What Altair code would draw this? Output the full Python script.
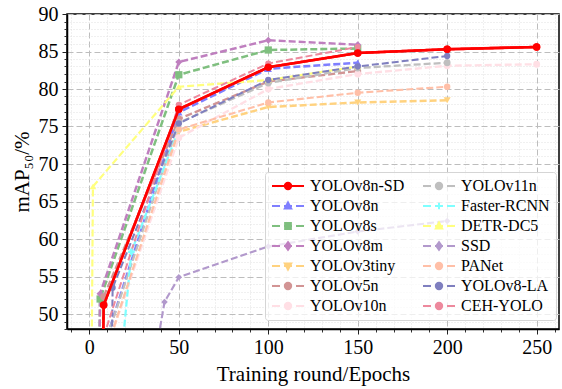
import altair as alt
import pandas as pd

# ---------------- data ----------------
series_names = ["YOLOv8n-SD", "YOLOv8n", "YOLOv8s", "YOLOv8m", "YOLOv3tiny", "YOLOv5n", "YOLOv10n",
                "YOLOv11n", "Faster-RCNN", "DETR-DC5", "SSD", "PANet", "YOLOv8-LA", "CEH-YOLO"]

sd_x = [7, 8, 50, 100, 150, 200, 250]
sd_y = [35, 51.2, 77.3, 82.9, 84.8, 85.3, 85.6]
v8n_x = [10, 50, 100, 150]
v8n_y = [47, 76.9, 82.7, 83.5]
v8s_x = [5, 6, 50, 100, 150]
v8s_y = [35, 52.0, 81.9, 85.2, 85.4]
v8m_x = [5, 6, 50, 100, 150]
v8m_y = [35, 52.7, 83.6, 86.5, 85.9]
v3t_x = [12, 50, 100, 150, 200]
v3t_y = [47, 74.3, 77.6, 78.2, 78.5]
v5n_x = [7, 8, 50, 100, 150]
v5n_y = [35, 52.3, 76.0, 81.0, 82.4]
v10n_x = [12, 50, 100, 150, 200, 250]
v10n_y = [47, 73.5, 80.0, 82.0, 83.1, 83.3]
v11n_x = [10, 50, 100, 150, 200]
v11n_y = [47, 75.5, 80.8, 82.8, 83.5]
frcnn_x = [19, 23.5, 50]
frcnn_y = [47, 58.3, 74.6]
detr_x = [1, 2, 50, 100, 150]
detr_y = [35, 67.0, 80.3, 81.2, 83.0]
ssd_x = [30, 42, 50, 100, 150, 200]
ssd_y = [35, 51.6, 54.9, 59.0, 61.0, 62.4]
panet_x = [12, 50, 100, 150, 200]
panet_y = [47, 74.6, 78.2, 79.5, 80.3]
la_x = [12, 13, 50, 100, 150, 200]
la_y = [35, 53.5, 75.4, 81.2, 83.0, 84.4]
ceh_x = [8, 50, 100, 150]
ceh_y = [47, 77.9, 83.4, 85.6]

x_major = [0, 50, 100, 150, 200, 250]
y_major = [50, 55, 60, 65, 70, 75, 80, 85, 90]

all_x = [sd_x, v8n_x, v8s_x, v8m_x, v3t_x, v5n_x, v10n_x, v11n_x, frcnn_x, detr_x, ssd_x, panet_x, la_x, ceh_x]
all_y = [sd_y, v8n_y, v8s_y, v8m_y, v3t_y, v5n_y, v10n_y, v11n_y, frcnn_y, detr_y, ssd_y, panet_y, la_y, ceh_y]

rows = []
for name, xs, ys in zip(series_names, all_x, all_y):
    for xv, yv in zip(xs, ys):
        rows.append({"series": name, "epoch": xv, "map": yv})
df = pd.DataFrame(rows)

# ---------------- styles ----------------
FONT = "Liberation Serif"
colors = {
    "YOLOv8n-SD": "#ff0000", "YOLOv8n": "#7f7fff", "YOLOv8s": "#7fbf7f", "YOLOv8m": "#bf7fbf",
    "YOLOv3tiny": "#ffd27f", "YOLOv5n": "#d29494", "YOLOv10n": "#ffdfe5", "YOLOv11n": "#bfbfbf",
    "Faster-RCNN": "#7fffff", "DETR-DC5": "#ffff7f", "SSD": "#b299cc", "PANet": "#ffbfa7",
    "YOLOv8-LA": "#7f7fbf", "CEH-YOLO": "#ed899d",
}
marker = {
    "YOLOv8n-SD": "circle", "YOLOv8n": "triangle-up", "YOLOv8s": "square", "YOLOv8m": "diamond",
    "YOLOv3tiny": "triangle-down", "YOLOv5n": "circle", "YOLOv10n": "circle", "YOLOv11n": "circle",
    "Faster-RCNN": "cross", "DETR-DC5": "triangle-up", "SSD": "diamond", "PANet": "circle",
    "YOLOv8-LA": "circle", "CEH-YOLO": "circle",
}

dom = series_names
rng_color = [colors[n] for n in dom]
rng_dash = [[1, 0] if n == "YOLOv8n-SD" else [7, 3] for n in dom]
rng_width = [2.6 if n == "YOLOv8n-SD" else 2.0 for n in dom]
rng_shape = [marker[n] for n in dom]
rng_size = [55 if n == "YOLOv8n-SD" else (28 if n == "SSD" else 38) for n in dom]

# custom legend symbols: line + (stroke-filled) marker, as SVG paths in px / k
LEG_SIZE = 16
k = (LEG_SIZE ** 0.5) / 2.0


def f(v):
    return f"{v / k:.3f}"


def poly(pts):
    out = []
    for s in (1.0, 0.6, 0.25):
        p = [(x * s, y * s) for x, y in pts]
        out.append("M" + "L".join(f"{f(x)},{f(y)}" for x, y in p) + "Z")
    return "".join(out)


def marker_path(kind, r=3.2):
    if kind == "circle":
        parts = []
        for rr in (r, r * 0.5):
            parts.append(f"M{f(-rr)},0A{f(rr)},{f(rr)} 0 1,0 {f(rr)},0A{f(rr)},{f(rr)} 0 1,0 {f(-rr)},0Z")
        parts.append(f"M{f(-0.6)},0H{f(0.6)}")
        return "".join(parts)
    if kind == "square":
        a = r * 0.9
        return poly([(-a, -a), (a, -a), (a, a), (-a, a)])
    if kind == "triangle-up":
        return poly([(0, -r * 1.1), (r, r * 0.8), (-r, r * 0.8)])
    if kind == "triangle-down":
        return poly([(0, r * 1.1), (r, -r * 0.8), (-r, -r * 0.8)])
    if kind == "diamond":
        return poly([(0, -r * 1.2), (r * 0.85, 0), (0, r * 1.2), (-r * 0.85, 0)])
    if kind == "cross":
        return f"M{f(-r)},0H{f(r)}M0,{f(-r)}V{f(r)}"
    return ""


def legend_path(name):
    if name == "YOLOv8n-SD":
        line = f"M{f(-16)},0H{f(16)}"
    else:
        line = f"M{f(-16)},0H{f(-8)}M{f(-4)},0H{f(4)}M{f(8)},0H{f(16)}"
    return line + marker_path(marker[name])


leg_shapes = [legend_path(n) for n in dom]

x_scale = alt.Scale(domain=[-12.5, 262.5], nice=False, zero=False)
y_scale = alt.Scale(domain=[48, 90], nice=False, zero=False)

x_minor = [v for v in range(-10, 261, 10) if v % 50 != 0]
y_minor = [v for v in range(48, 91) if v % 5 != 0]

base = alt.Chart(df)

lines = base.mark_line(clip=True).encode(
    x=alt.X("epoch:Q", scale=x_scale,
            axis=alt.Axis(values=x_minor, labels=False, title=None, tickSize=3, tickColor="#333333",
                          orient="bottom", domain=False, grid=True, gridDash=[1, 2],
                          gridColor="#d9d9d9", gridWidth=0.8)),
    y=alt.Y("map:Q", scale=y_scale,
            axis=alt.Axis(values=y_minor, labels=False, title=None, tickSize=3, tickColor="#333333",
                          orient="left", domain=False, grid=True, gridDash=[1, 2],
                          gridColor="#d9d9d9", gridWidth=0.8)),
    color=alt.Color("series:N", scale=alt.Scale(domain=dom, range=rng_color), legend=None),
    strokeDash=alt.StrokeDash("series:N", scale=alt.Scale(domain=dom, range=rng_dash), legend=None),
    strokeWidth=alt.StrokeWidth("series:N", scale=alt.Scale(domain=dom, range=rng_width), legend=None),
    detail="series:N",
    order="epoch:Q",
)

points = base.mark_point(filled=True, clip=True, opacity=1).encode(
    x=alt.X("epoch:Q", scale=x_scale,
            axis=alt.Axis(values=x_major, title="Training round/Epochs", tickSize=5, tickColor="#222222",
                          orient="bottom", grid=True, gridDash=[6, 3], gridColor="#bdbdbd", gridWidth=1,
                          labelFontSize=20, labelPadding=3, titleFontSize=21, titlePadding=6,
                          domainColor="black", domainWidth=1.5)),
    y=alt.Y("map:Q", scale=y_scale,
            axis=alt.Axis(values=y_major, title="mAP₅₀/%", tickSize=5, tickColor="#222222",
                          orient="left", grid=True, gridDash=[6, 3], gridColor="#bdbdbd", gridWidth=1,
                          labelFontSize=20, labelPadding=4, titleFontSize=21, titlePadding=6,
                          domainColor="black", domainWidth=1.5)),
    color=alt.Color("series:N", scale=alt.Scale(domain=dom, range=rng_color), legend=None),
    shape=alt.Shape("series:N", scale=alt.Scale(domain=dom, range=rng_shape), legend=None),
    size=alt.Size("series:N", scale=alt.Scale(domain=dom, range=rng_size), legend=None),
)

# red series drawn on top
red = df[df.series == "YOLOv8n-SD"]
red_line = alt.Chart(red).mark_line(clip=True, color="#ff0000", strokeWidth=2.6).encode(
    x=alt.X("epoch:Q", scale=x_scale, axis=None), y=alt.Y("map:Q", scale=y_scale, axis=None), order="epoch:Q")
red_pts = alt.Chart(red).mark_point(clip=True, filled=True, color="#ff0000", size=55, opacity=1).encode(
    x=alt.X("epoch:Q", scale=x_scale, axis=None), y=alt.Y("map:Q", scale=y_scale, axis=None))

leg = alt.Legend(
    title=None, orient="none", legendX=198, legendY=158, columns=2, columnPadding=14, rowPadding=4,
    symbolSize=LEG_SIZE, symbolStrokeWidth=2, symbolOffset=9, labelOffset=14,
    labelFont=FONT, labelFontSize=16, labelColor="black", labelLimit=200,
    padding=6, strokeColor="#d5d5d5", fillColor="rgba(255,255,255,0.75)", cornerRadius=3)

legend_layer = base.transform_filter("datum.epoch < -1000").transform_calculate(
    lg="datum.series").mark_point(filled=False, opacity=1, strokeWidth=2).encode(
    x=alt.X("epoch:Q", scale=x_scale, axis=None),
    y=alt.Y("map:Q", scale=y_scale, axis=None),
    color=alt.Color("lg:N", scale=alt.Scale(domain=dom, range=rng_color), legend=leg),
    shape=alt.Shape("lg:N", scale=alt.Scale(domain=dom, range=leg_shapes), legend=leg),
)

chart = alt.layer(lines, points, red_line, red_pts, legend_layer).resolve_scale(
    shape="independent", color="independent"
).resolve_axis(x="independent", y="independent").properties(
    width=492, height=315,
    padding={"left": 67, "top": 14, "right": 3, "bottom": 60},
    autosize=alt.AutoSizeParams(type="none"),
).configure(font=FONT).configure_axis(
    labelFont=FONT, titleFont=FONT, titleFontWeight="normal", labelColor="black", titleColor="black",
    domainColor="black",
).configure_view(
    stroke="black", strokeWidth=1.5
)

chart.save("out.html", embed_options={"renderer": "svg", "actions": False})
